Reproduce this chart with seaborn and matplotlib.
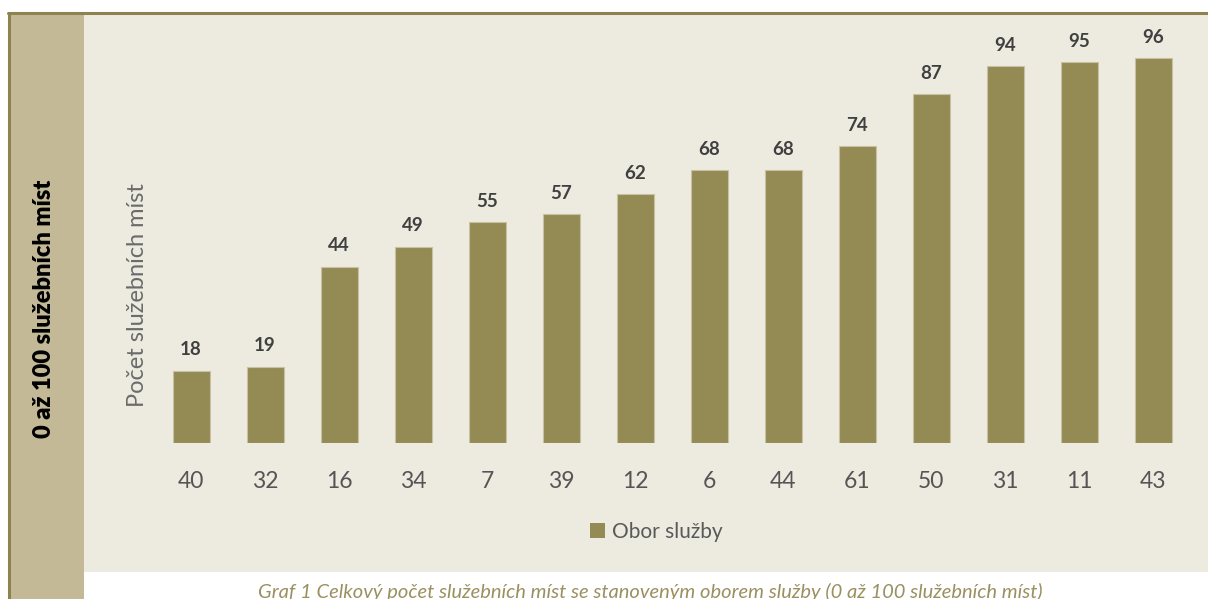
import matplotlib
matplotlib.use('Agg')
import matplotlib.pyplot as plt
import seaborn as sns
from matplotlib.patches import Rectangle
from matplotlib.lines import Line2D

# Data
obory = ['40', '32', '16', '34', '7', '39', '12', '6', '44', '61', '50', '31', '11', '43']
pocty = [18, 19, 44, 49, 55, 57, 62, 68, 68, 74, 87, 94, 95, 96]
legend_label = 'Obor služby'
y_label = 'Počet služebních míst'
band_label = '0 až 100 služebních míst'
caption = 'Graf 1 Celkový počet služebních míst se stanoveným oborem služby (0 až 100 služebních míst)'

BAR = '#948a54'
BAND = '#c3b996'
PANEL = '#edeae0'
BORDER = '#8c8350'

sns.set_style('white')
plt.rcParams['font.family'] = ['Lato', 'DejaVu Sans']

W, H = 1208, 599
fig = plt.figure(figsize=(W / 100, H / 100), dpi=100)
fig.patch.set_facecolor('white')


def fx(px):
    return px / W


def fy(py):
    return 1 - py / H


# background panels (drawn below the axes)
fig.patches.append(Rectangle((fx(84), fy(572)), fx(W - 84), (572 - 14) / H,
                             transform=fig.transFigure, facecolor=PANEL, edgecolor='none', zorder=-3))
fig.patches.append(Rectangle((fx(10), 0), fx(74), fy(14),
                             transform=fig.transFigure, facecolor=BAND, edgecolor='none', zorder=-3))
fig.lines.append(Line2D([fx(8), 1], [fy(13), fy(13)], transform=fig.transFigure,
                        color=BORDER, linewidth=2.2, zorder=-2))
fig.lines.append(Line2D([fx(9), fx(9)], [0, fy(13)], transform=fig.transFigure,
                        color=BORDER, linewidth=2.2, zorder=-2))

# plotting axes: bar baseline at y=443 px, top at y=14 px
ax = fig.add_axes([fx(84), fy(443), fx(W - 84), (443 - 14) / H])
ax.set_facecolor('none')
ax.set_zorder(1)
sns.barplot(x=obory, y=pocty, order=obory, color=BAR, width=0.5,
            edgecolor='#c9c2a2', linewidth=0.8, saturation=1, ax=ax)

step = 74
ax.set_xlim((84 - 191) / step, (W - 191) / step)
ax.set_ylim(0, (443 - 14) / 4.01)

for container in ax.containers:
    ax.bar_label(container, padding=9, fontsize=13.5, fontweight='bold', color='#404040')

ax.tick_params(axis='x', length=0, pad=20, labelsize=16.5, labelcolor='#555555')
ax.set_yticks([])
ax.set_xlabel('')
ax.set_ylabel('')
sns.despine(ax=ax, left=True, bottom=True)

fig.text(fx(138), fy(295), y_label, rotation=90, ha='center', va='center',
         fontsize=17, color='#6b6b6b')
fig.text(fx(44), fy(309), band_label, rotation=90, ha='center', va='center',
         fontsize=17, fontweight='heavy', color='black')

handle = Rectangle((0, 0), 1, 1, facecolor=BAR, edgecolor='none')
fig.legend([handle], [legend_label], loc='center', bbox_to_anchor=(fx(656), fy(532)),
           frameon=False, fontsize=15, labelcolor='#595959',
           handlelength=0.75, handleheight=0.75, handletextpad=0.3)

fig.text(fx(650), fy(592), caption, ha='center', va='center', fontsize=14.5,
         style='italic', color='#9a9060')

plt.savefig('out.png', dpi=100)
plt.close()
